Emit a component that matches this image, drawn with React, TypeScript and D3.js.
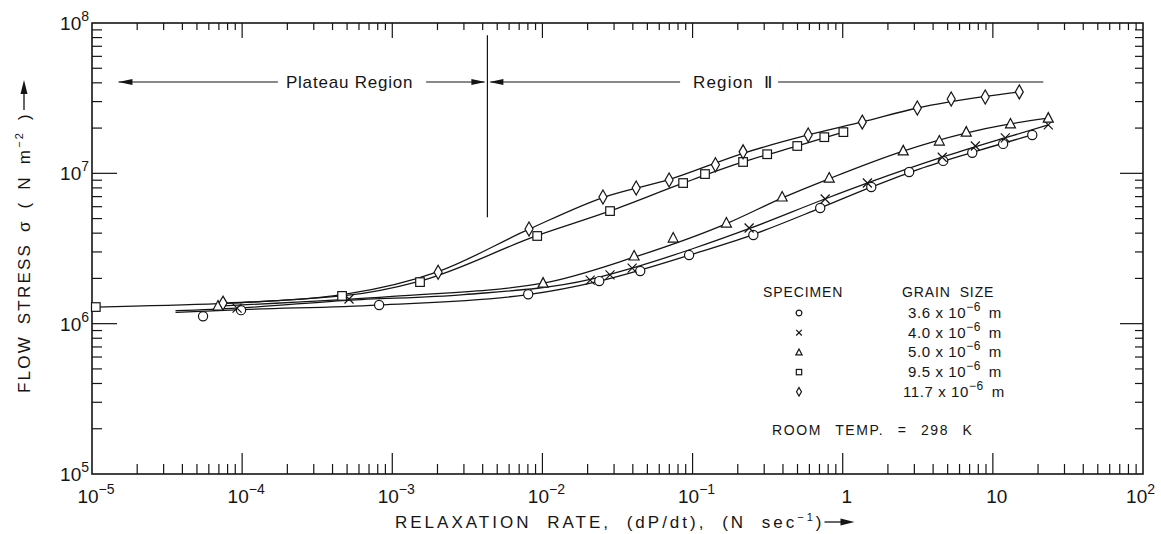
import React, { useRef, useEffect } from 'react';
import * as d3 from 'd3';

const W = 1161;
const H = 534;

// tick decades
const xDecades = [-5, -4, -3, -2, -1, 0, 1, 2];
const yDecades = [5, 6, 7, 8];

// legend
const shapes = ['circle', 'cross', 'triangle', 'square', 'diamond'];
const grainSizes = ['3.6', '4.0', '5.0', '9.5', '11.7'];

// measured points: [relaxation rate N/s, flow stress N/m2]
const circleData = [
  [5.49e-5, 1.12e6], [9.83e-5, 1.23e6], [8.17e-4, 1.33e6], [8.04e-3, 1.57e6], [0.0239, 1.92e6],
  [0.0448, 2.24e6], [0.0948, 2.86e6], [0.254, 3.89e6], [0.708, 5.88e6], [1.55, 8.11e6],
  [2.77, 1.02e7], [4.67, 1.21e7], [7.29, 1.37e7], [11.7, 1.57e7], [18.3, 1.8e7],
];
const crossData = [
  [9.25e-5, 1.27e6], [5.15e-4, 1.46e6], [0.0208, 1.95e6], [0.0282, 2.11e6], [0.0396, 2.34e6],
  [0.238, 4.33e6], [0.764, 6.75e6], [1.46, 8.62e6], [4.6, 1.28e7], [7.64, 1.52e7],
  [12.1, 1.72e7], [23.4, 2.1e7],
];
const triangleData = [
  [6.91e-5, 1.31e6], [0.0101, 1.86e6], [0.0408, 2.82e6], [0.0743, 3.71e6], [0.168, 4.67e6],
  [0.395, 6.96e6], [0.813, 9.3e6], [2.53, 1.41e7], [4.4, 1.64e7], [6.65, 1.88e7],
  [13.1, 2.13e7], [23.4, 2.33e7],
];
const squareData = [
  [1.06e-5, 1.29e6], [4.63e-4, 1.53e6], [1.53e-3, 1.89e6], [9.23e-3, 3.83e6], [0.0282, 5.61e6],
  [0.0865, 8.62e6], [0.121, 9.89e6], [0.217, 1.19e7], [0.314, 1.34e7], [0.498, 1.52e7],
  [0.754, 1.74e7], [1.01, 1.88e7],
];
const diamondData = [
  [7.46e-5, 1.37e6], [2.02e-3, 2.2e6], [8.14e-3, 4.26e6], [0.0253, 6.96e6], [0.0421, 7.98e6],
  [0.0698, 9.02e6], [0.142, 1.14e7], [0.217, 1.39e7], [0.589, 1.8e7], [1.35, 2.19e7],
  [3.14, 2.72e7], [5.28, 3.12e7], [8.9, 3.22e7], [15.0, 3.48e7],
];

// hand-drawn fit curves
const circleFit = [
  [3.6e-5, 1.19e6], [1e-4, 1.24e6], [8e-4, 1.33e6], [8e-3, 1.56e6], [0.024, 1.92e6], [0.1, 2.9e6],
  [0.25, 3.9e6], [0.7, 5.85e6], [1.5, 8.0e6], [3, 1.04e7], [7, 1.36e7], [18.3, 1.8e7],
];
const crossFit = [
  [3.6e-5, 1.22e6], [9.25e-5, 1.27e6], [5e-4, 1.43e6], [3e-3, 1.56e6], [0.0208, 1.97e6], [0.04, 2.35e6],
  [0.1, 3.15e6], [0.24, 4.3e6], [0.76, 6.75e6], [1.5, 8.7e6], [4.6, 1.28e7], [12, 1.72e7], [23.4, 2.1e7],
];
const triangleFit = [
  [6.9e-5, 1.31e6], [1e-3, 1.52e6], [0.0101, 1.86e6], [0.04, 2.75e6], [0.17, 4.65e6], [0.4, 6.9e6],
  [0.81, 9.2e6], [2.5, 1.4e7], [6.6, 1.85e7], [13, 2.13e7], [23.4, 2.33e7],
];
const squareFit = [
  [1.06e-5, 1.29e6], [4.63e-4, 1.53e6], [1.53e-3, 1.92e6], [9.2e-3, 3.85e6], [0.028, 5.6e6],
  [0.0865, 8.6e6], [0.217, 1.19e7], [0.5, 1.52e7], [1.01, 1.88e7],
];
const diamondFit = [
  [7.46e-5, 1.37e6], [5e-4, 1.58e6], [2.02e-3, 2.22e6], [8.14e-3, 4.25e6], [0.0253, 6.9e6], [0.07, 9.1e6],
  [0.217, 1.36e7], [0.589, 1.8e7], [1.35, 2.2e7], [3.14, 2.72e7], [8.9, 3.25e7], [15, 3.48e7],
];

const seriesData = [circleData, crossData, triangleData, squareData, diamondData];
const seriesFits = [circleFit, crossFit, triangleFit, squareFit, diamondFit];

// region boundary and annotation positions (rate values)
const boundaryRate = 4.3e-3;
const regionStress = 4.05e7;

const INK = '#151515';
const FONT = '"Liberation Sans", Arial, sans-serif';

function drawMarker(g, shape, cx, cy, k = 1) {
  const m = g.append('g').attr('transform', `translate(${cx},${cy})`)
    .attr('fill', '#fff').attr('stroke', INK).attr('stroke-width', 1.2);
  if (shape === 'circle') m.append('circle').attr('r', 4.6 * k);
  if (shape === 'square') m.append('rect').attr('x', -4.3 * k).attr('y', -4.3 * k).attr('width', 8.6 * k).attr('height', 8.6 * k);
  if (shape === 'triangle') m.append('path').attr('d', `M0,${-5.5 * k}L${5 * k},${4 * k}L${-5 * k},${4 * k}Z`);
  if (shape === 'diamond') m.append('path').attr('d', `M0,${-7 * k}L${4 * k},0L0,${7 * k}L${-4 * k},0Z`);
  if (shape === 'cross') {
    m.append('path').attr('fill', 'none')
      .attr('d', `M${-4.5 * k},${-4.5 * k}L${4.5 * k},${4.5 * k}M${4.5 * k},${-4.5 * k}L${-4.5 * k},${4.5 * k}`);
  }
}

const FlowStressChart = () => {
  const svgRef = useRef(null);

  useEffect(() => {
    document.body.style.margin = '0';
    const svg = d3.select(svgRef.current);
    svg.selectAll('*').remove();

    const left = 92, right = 1143, top = 23, bottom = 474;

    const x = d3.scaleLog().domain([1e-5, 1e2]).range([left, right]);
    const y = d3.scaleLog().domain([1e5, 1e8]).range([bottom, top]);

    const g = svg.append('g').attr('font-family', FONT).attr('fill', INK);

    // frame
    g.append('rect')
      .attr('x', left).attr('y', top)
      .attr('width', right - left).attr('height', bottom - top)
      .attr('fill', 'none').attr('stroke', INK).attr('stroke-width', 1.6);

    // ticks all round
    const xMinor = [];
    const yMinor = [];
    xDecades.slice(0, -1).forEach(e => d3.range(2, 10).forEach(m => xMinor.push(m * 10 ** e)));
    yDecades.slice(0, -1).forEach(e => d3.range(2, 10).forEach(m => yMinor.push(m * 10 ** e)));
    const xMajor = xDecades.slice(1, -1).map(e => 10 ** e);
    const yMajor = yDecades.slice(1, -1).map(e => 10 ** e);

    const ticks = g.append('g').attr('stroke', INK).attr('stroke-width', 1.2);
    xMinor.forEach(v => {
      ticks.append('line').attr('x1', x(v)).attr('x2', x(v)).attr('y1', bottom).attr('y2', bottom - 10);
      ticks.append('line').attr('x1', x(v)).attr('x2', x(v)).attr('y1', top).attr('y2', top + 7);
    });
    xMajor.forEach(v => {
      ticks.append('line').attr('x1', x(v)).attr('x2', x(v)).attr('y1', bottom).attr('y2', bottom - 21);
      ticks.append('line').attr('x1', x(v)).attr('x2', x(v)).attr('y1', top).attr('y2', top + 15);
    });
    yMinor.forEach(v => {
      ticks.append('line').attr('x1', left).attr('x2', left + 10).attr('y1', y(v)).attr('y2', y(v));
      ticks.append('line').attr('x1', right).attr('x2', right - 8).attr('y1', y(v)).attr('y2', y(v));
    });
    yMajor.forEach(v => {
      ticks.append('line').attr('x1', left).attr('x2', left + 25).attr('y1', y(v)).attr('y2', y(v));
      ticks.append('line').attr('x1', right).attr('x2', right - 23).attr('y1', y(v)).attr('y2', y(v));
    });

    // x tick labels
    xDecades.forEach((e, i) => {
      const last = i === xDecades.length - 1;
      const t = g.append('text')
        .attr('x', last ? W - 6 : x(10 ** e) + 4)
        .attr('y', 503)
        .attr('font-size', 19)
        .attr('text-anchor', last ? 'end' : 'middle');
      if (e === 0) t.text('1');
      else if (e === 1) t.text('10');
      else {
        t.append('tspan').text('10');
        t.append('tspan').attr('dy', -9).attr('font-size', 14).text(e < 0 ? `\u2212${-e}` : `${e}`);
      }
    });

    // y tick labels
    yDecades.forEach(e => {
      const t = g.append('text')
        .attr('x', 89)
        .attr('y', y(10 ** e) + 7)
        .attr('font-size', 19)
        .attr('text-anchor', 'end');
      t.append('tspan').text('10');
      t.append('tspan').attr('dy', -9).attr('font-size', 14).text(`${e}`);
    });

    // axis titles with arrows
    const xTitle = g.append('text')
      .attr('x', 395).attr('y', 528)
      .attr('font-size', 17).attr('letter-spacing', 3).attr('word-spacing', 8);
    xTitle.append('tspan').text('RELAXATION RATE, (dP/dt), (N sec');
    xTitle.append('tspan').attr('dy', -7).attr('font-size', 11).text('\u22121');
    xTitle.append('tspan').attr('dy', 7).text(')');
    const xtEnd = 395 + xTitle.node().getComputedTextLength();
    g.append('line').attr('x1', xtEnd).attr('x2', xtEnd + 22).attr('y1', 522).attr('y2', 522)
      .attr('stroke', INK).attr('stroke-width', 1.3);
    g.append('path').attr('d', `M${xtEnd + 30},522L${xtEnd + 16},518.5L${xtEnd + 16},525.5Z`);

    const yTitleG = g.append('g').attr('transform', 'translate(30,393) rotate(-90)');
    const yTitle = yTitleG.append('text').attr('x', 0).attr('y', 0)
      .attr('font-size', 17).attr('letter-spacing', 2.2).attr('word-spacing', 4);
    yTitle.append('tspan').text('FLOW STRESS \u03c3 ( N m');
    yTitle.append('tspan').attr('dy', -7).attr('font-size', 11).text('\u22122');
    yTitle.append('tspan').attr('dy', 7).text(' )');
    const ytEnd = yTitle.node().getComputedTextLength();
    yTitleG.append('line').attr('x1', ytEnd + 2).attr('x2', ytEnd + 24).attr('y1', -6).attr('y2', -6)
      .attr('stroke', INK).attr('stroke-width', 1.3);
    yTitleG.append('path').attr('d', `M${ytEnd + 32},-6L${ytEnd + 18},-9.5L${ytEnd + 18},-2.5Z`);

    // region annotations
    const ry = y(regionStress);
    const bx = x(boundaryRate);
    const ann = g.append('g').attr('stroke', INK).attr('stroke-width', 1.2);
    ann.append('line').attr('x1', bx).attr('x2', bx).attr('y1', y(8.3e7)).attr('y2', y(5.1e6));
    ann.append('line').attr('x1', x(1.5e-5)).attr('x2', x(1.73e-4)).attr('y1', ry).attr('y2', ry);
    ann.append('line').attr('x1', x(1.68e-3)).attr('x2', bx - 3).attr('y1', ry).attr('y2', ry);
    ann.append('line').attr('x1', bx + 3).attr('x2', x(0.0826)).attr('y1', ry).attr('y2', ry);
    ann.append('line').attr('x1', x(0.371)).attr('x2', x(21.7)).attr('y1', ry).attr('y2', ry);
    const head = (tip, dir) => g.append('path')
      .attr('d', `M${tip},${ry}L${tip - dir * 14},${ry - 3}L${tip - dir * 14},${ry + 3}Z`);
    head(x(1.5e-5), -1);
    head(bx - 2, 1);
    head(bx + 2, -1);
    g.append('text').attr('x', x(5.2e-4)).attr('y', ry + 6).attr('font-size', 17)
      .attr('text-anchor', 'middle').attr('letter-spacing', 0.8).text('Plateau Region');
    g.append('text').attr('x', x(0.186)).attr('y', ry + 6).attr('font-size', 17)
      .attr('text-anchor', 'middle').attr('letter-spacing', 1.2).attr('word-spacing', 4).text('Region \u2161');

    // fit curves
    const line = d3.line()
      .x(d => x(d[0]))
      .y(d => y(d[1]))
      .curve(d3.curveMonotoneX);
    seriesFits.forEach(fit => {
      g.append('path').datum(fit)
        .attr('fill', 'none').attr('stroke', INK).attr('stroke-width', 1.3)
        .attr('d', line);
    });

    // markers
    seriesData.forEach((pts, i) => {
      pts.forEach(d => drawMarker(g, shapes[i], x(d[0]), y(d[1])));
    });

    // legend
    g.append('text').attr('x', 763).attr('y', 297).attr('font-size', 14).attr('letter-spacing', 0.9).text('SPECIMEN');
    g.append('text').attr('x', 902).attr('y', 297).attr('font-size', 14).attr('letter-spacing', 0.9)
      .attr('word-spacing', 4).text('GRAIN SIZE');
    grainSizes.forEach((s, i) => {
      const ly = 313 + i * 19.7;
      drawMarker(g, shapes[i], 799, ly, 0.62);
      const t = g.append('text').attr('x', s.length > 3 ? 903 : 908).attr('y', ly + 5)
        .attr('font-size', 15).attr('letter-spacing', 0.6);
      t.append('tspan').text(`${s} x 10`);
      t.append('tspan').attr('dy', -7).attr('font-size', 12).text('\u22126');
      t.append('tspan').attr('dy', 7).attr('word-spacing', 3).text(' m');
    });
    g.append('text').attr('x', 772).attr('y', 435).attr('font-size', 14).attr('letter-spacing', 1.6)
      .attr('word-spacing', 8).text('ROOM TEMP. = 298 K');
  }, []);

  return (
    <svg ref={svgRef} width={W} height={H} style={{ display: 'block', background: '#fff' }}>
      {/* drawn in useEffect */}
    </svg>
  );
};

export default function App() {
  return <FlowStressChart />;
}
